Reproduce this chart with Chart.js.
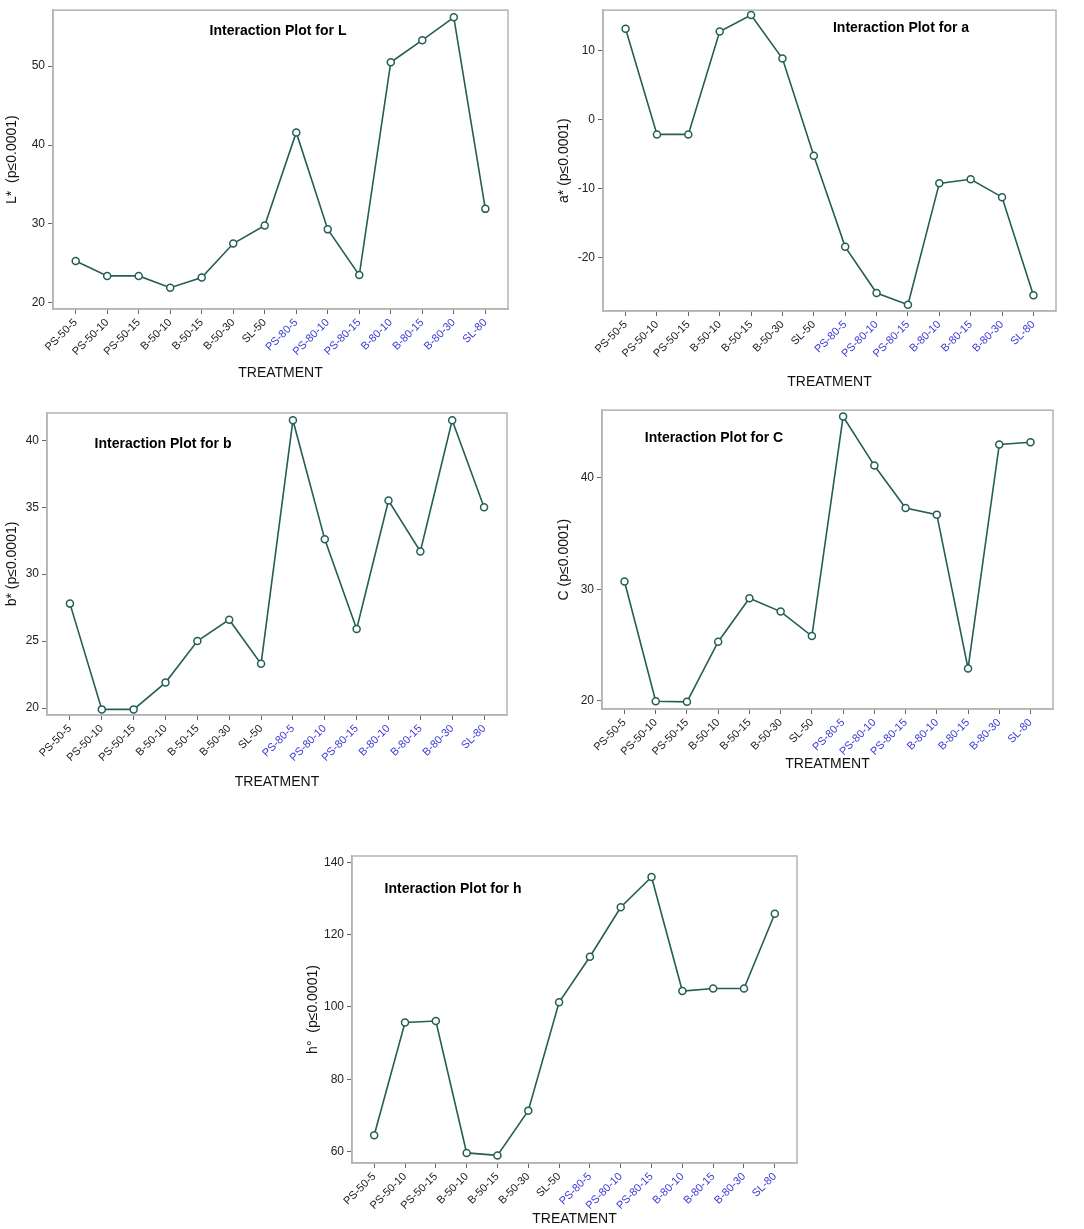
<!DOCTYPE html>
<html>
<head>
<meta charset="utf-8">
<script src="https://cdn.jsdelivr.net/npm/chart.js@4.4.1/dist/chart.umd.min.js"></script>
<style>
  html, body { margin: 0; padding: 0; background: #fff; }
  body { width: 1084px; height: 1229px; position: relative; overflow: hidden; }
  canvas { position: absolute; }
</style>
</head>
<body>
<script>
// ---------- DATA ----------
const treatments = [
    "PS-50-5", "PS-50-10", "PS-50-15", "B-50-10", "B-50-15", "B-50-30", "SL-50",
    "PS-80-5", "PS-80-10", "PS-80-15", "B-80-10", "B-80-15", "B-80-30", "SL-80"
];

const valuesL = [25.3, 23.4, 23.4, 21.9, 23.2, 27.5, 29.8, 41.6, 29.3, 23.5, 50.5, 53.3, 56.2, 31.9];
const valuesA = [13.2, -2.1, -2.1, 12.8, 15.2, 8.9, -5.2, -18.4, -25.1, -26.8, -9.2, -8.6, -11.2, -25.4];
const valuesB = [27.8, 19.9, 19.9, 21.9, 25.0, 26.6, 23.3, 41.5, 32.6, 25.9, 35.5, 31.7, 41.5, 35.0];
const valuesC = [30.7, 19.95, 19.9, 25.3, 29.2, 28.0, 25.8, 45.5, 41.1, 37.3, 36.7, 22.9, 43.0, 43.2];
const valuesH = [64.5, 95.7, 96.1, 59.6, 58.9, 71.3, 101.3, 113.9, 127.6, 136.0, 104.4, 105.1, 105.1, 125.8];

const ticksL = [20, 30, 40, 50];
const ticksA = [-20, -10, 0, 10];
const ticksB = [20, 25, 30, 35, 40];
const ticksC = [20, 30, 40];
const ticksH = [60, 80, 100, 120, 140];

// ---------- STYLE ----------
const FONT = "'Liberation Sans Narrow', 'Arial Narrow', 'Liberation Sans', Arial, sans-serif";
const LINE = "#245e55";
const BLUE = "#3b3bd6";

// page coords of each panel: canvas left/top, plot box, x-title centre, title centre
const panels = [
    { values: valuesL, ticks: ticksL, ymin: 19.2, ymax: 57.1, ylabel: "L*  (p≤0.0001)", title: "Interaction Plot for L",
      cl: 0, ct: 0, box: [53, 10, 508, 309], treatY: 374, titlePos: [278, 31] },
    { values: valuesA, ticks: ticksA, ymin: -27.7, ymax: 15.9, ylabel: "a* (p≤0.0001)", title: "Interaction Plot for a",
      cl: 552, ct: 0, box: [603, 10, 1056, 311], treatY: 383, titlePos: [901, 28] },
    { values: valuesB, ticks: ticksB, ymin: 19.48, ymax: 42.04, ylabel: "b* (p≤0.0001)", title: "Interaction Plot for b",
      cl: 0, ct: 400, box: [47, 413, 507, 715], treatY: 783, titlePos: [163, 444] },
    { values: valuesC, ticks: ticksC, ymin: 19.26, ymax: 46.07, ylabel: "C (p≤0.0001)", title: "Interaction Plot for C",
      cl: 552, ct: 400, box: [602, 410, 1053, 709], treatY: 765, titlePos: [714, 438] },
    { values: valuesH, ticks: ticksH, ymin: 56.8, ymax: 141.8, ylabel: "h°  (p≤0.0001)", title: "Interaction Plot for h",
      cl: 301, ct: 840, box: [352, 856, 797, 1163], treatY: 1220, titlePos: [453, 889] }
];

// frame round the plot area + title inside it
const framePlugin = {
    id: "frame",
    afterDraw(chart) {
        const { ctx, chartArea: a } = chart;
        const p = chart.options.plugins.frame;
        ctx.save();
        ctx.strokeStyle = "#b4b4b4";
        ctx.lineWidth = 1.5;
        ctx.strokeRect(a.left, a.top, a.right - a.left, a.bottom - a.top);
        ctx.fillStyle = "#000";
        ctx.font = "bold 14px " + FONT;
        ctx.textAlign = "center";
        ctx.textBaseline = "middle";
        ctx.fillText(p.text, p.x, p.y);
        ctx.restore();
    }
};

panels.forEach(p => {
    const [bl, bt, br, bb] = p.box;
    const cw = br + 18 - p.cl;
    const ch = Math.round(p.treatY + 8.4 - p.ct);

    const canvas = document.createElement("canvas");
    canvas.width = cw;
    canvas.height = ch;
    canvas.style.left = p.cl + "px";
    canvas.style.top = p.ct + "px";
    document.body.appendChild(canvas);

    new Chart(canvas, {
        type: "line",
        data: {
            datasets: [{
                data: p.values.map((v, i) => ({ x: i, y: v })),
                borderColor: LINE,
                borderWidth: 1.6,
                tension: 0,
                pointRadius: 3.5,
                pointBorderWidth: 1.5,
                pointBorderColor: LINE,
                pointBackgroundColor: "#ffffff"
            }]
        },
        plugins: [framePlugin],
        options: {
            responsive: false,
            animation: false,
            devicePixelRatio: 1,
            layout: {
                padding: { left: 0, top: bt - p.ct, right: cw - (br - p.cl), bottom: 0 }
            },
            plugins: {
                legend: { display: false },
                tooltip: { enabled: false },
                frame: { text: p.title, x: p.titlePos[0] - p.cl, y: p.titlePos[1] - p.ct }
            },
            scales: {
                x: {
                    type: "linear",
                    min: -0.72,
                    max: 13.72,
                    afterBuildTicks(scale) {
                        scale.ticks = treatments.map((t, i) => ({ value: i }));
                    },
                    afterFit(scale) {
                        scale.height = ch - (bb - p.ct);
                    },
                    border: { color: "#b4b4b4", width: 1.5 },
                    grid: { drawOnChartArea: false, tickLength: 5, color: "#666" },
                    ticks: {
                        autoSkip: false,
                        minRotation: 45,
                        maxRotation: 45,
                        padding: 2,
                        font: { family: FONT, size: 11 },
                        color: c => (c.index < 7 ? "#222" : BLUE),
                        callback: v => treatments[v]
                    },
                    title: {
                        display: true,
                        text: "TREATMENT",
                        color: "#111",
                        padding: { top: 0, bottom: 0 },
                        font: { family: FONT, size: 14 }
                    }
                },
                y: {
                    min: p.ymin,
                    max: p.ymax,
                    afterBuildTicks(scale) {
                        scale.ticks = p.ticks.map(v => ({ value: v }));
                    },
                    afterFit(scale) {
                        scale.width = bl - p.cl;
                    },
                    border: { color: "#b4b4b4", width: 1.5 },
                    grid: { drawOnChartArea: false, tickLength: 5, color: "#666" },
                    ticks: {
                        padding: 3,
                        font: { family: FONT, size: 12 },
                        color: "#222"
                    },
                    title: {
                        display: true,
                        text: p.ylabel,
                        color: "#111",
                        padding: { top: 4, bottom: 0 },
                        font: { family: FONT, size: 14 }
                    }
                }
            }
        }
    });
});
</script>
</body>
</html>
